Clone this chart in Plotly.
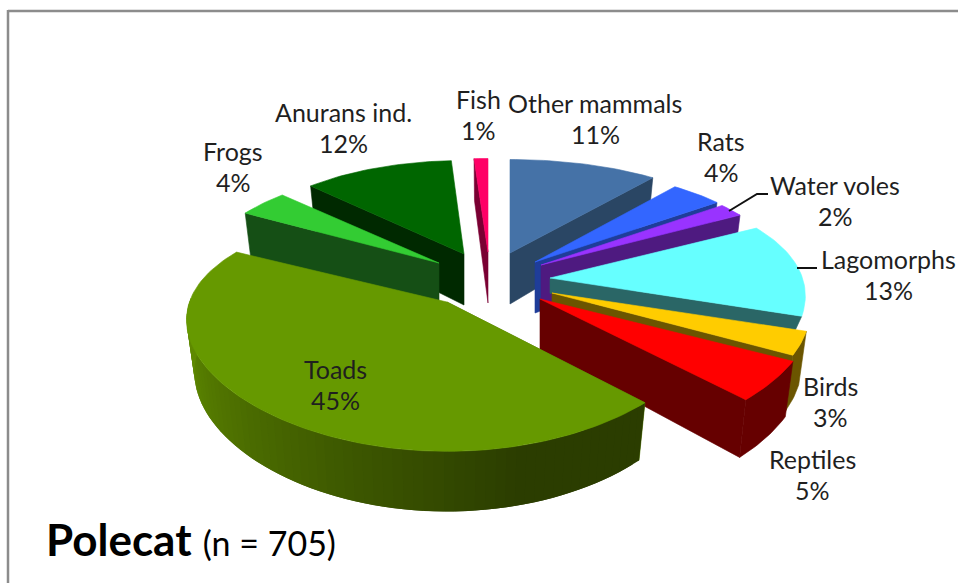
import math
import plotly.graph_objects as go

# --- data ---
categories = ["Other mammals", "Rats", "Water voles", "Lagomorphs", "Birds", "Reptiles",
              "Toads", "Frogs", "Anurans ind.", "Fish"]
percent = [11, 4, 2, 13, 3, 5, 45, 4, 12, 1]
title_main = "Polecat"
title_note = "(n = 705)"

# --- styling / layout ---
top_colors = ["#4572a7", "#3366ff", "#9933ff", "#66ffff", "#ffcc00", "#ff0000",
              "#669900", "#33cc33", "#006600", "#ff0066"]
wall_colors = ["#2a4664", "#1f3d99", "#4e1a80", "#2a6666", "#6b5500", "#660000",
               "#4f7600", "#154f15", "#002900", "#7a0033"]
apex = [(510, 253), (535, 262), (541, 265), (550, 278), (552, 293), (540, 299),
        (447, 302), (439, 263), (464, 254), (488, 252)]
x_scale = [0.98, 0.96, 0.955, 0.99, 1, 1.05, 1.01, 0.93, 0.91, 1]
depth_scale = [1, 1, 1, 0.3, 1, 1, 1, 1, 1, 1]
label_pos = [(595, 103), (721, 141), (835, 185), (888, 259), (830, 386), (812, 459),
             (335, 369), (233, 151), (343, 112), (478, 99)]
LINE_GAP = 31
RX, RY, KX, KY, DEPTH = 255, 115, 0.15, 0.23, 51
RIM_FROM, RIM_TO = 108, 272
FONT = "Lato, Carlito, Calibri, sans-serif"


def project(i, r, deg, z=0.0):
    t = math.radians(deg)
    u, v = math.sin(t), math.cos(t)
    ax, ay = apex[i]
    fy = 1 + KY * r * v
    x = x_scale[i] * r * RX * u / (1 + KX * r * v) * (1 - 0.03 * z)
    y = -r * RY * v / fy + z * DEPTH * depth_scale[i] * (1 - 0.18 * r * v)
    return ax + x, ay + y


def arc(a, b, step=1.5):
    n = max(2, int(abs(b - a) / step) + 1)
    return [a + (b - a) * k / n for k in range(n + 1)]


def mix(c1, c2, f):
    p = [int(c1[j:j + 2], 16) for j in (1, 3, 5)]
    q = [int(c2[j:j + 2], 16) for j in (1, 3, 5)]
    return "rgb(%d,%d,%d)" % tuple(round(x + (y - x) * f) for x, y in zip(p, q))


fig = go.Figure()


def poly(pts, color, name, lw=0.6):
    fig.add_trace(go.Scatter(
        x=[p[0] for p in pts] + [pts[0][0]], y=[p[1] for p in pts] + [pts[0][1]],
        mode="lines", fill="toself", fillcolor=color,
        line=dict(color=color, width=lw), hoverinfo="skip", showlegend=False, name=name))


# angular span of each slice, clockwise from the top
spans, acc = [], 0.0
for p in percent:
    spans.append((acc * 3.6, (acc + p) * 3.6))
    acc += p

draw_order = [9, 8, 7, 0, 1, 2, 3, 4, 5, 6]
for i in draw_order:
    a, b = spans[i]
    name = categories[i]
    # radial wall facing the viewer
    edge = a if (a + b) / 2 > 180 else b
    poly([project(i, 0, edge), project(i, 1, edge), project(i, 1, edge, 1), project(i, 0, edge, 1)],
         wall_colors[i], name)
    # rim wall (only the part that faces the viewer)
    lo, hi = max(a, RIM_FROM), min(b, RIM_TO)
    if hi > lo:
        if name == "Toads":
            angs = arc(lo, hi, 2.0)
            for k in range(len(angs) - 1):
                end = angs[min(k + 2, len(angs) - 1)]  # overlap hides seams
                f = min(1, max(0, (angs[k] - 165) / 95))
                c = mix("#2b3d00", "#5f8a00", f)
                sub = arc(angs[k], end, 1.0)
                poly([project(i, 1, d) for d in sub] + [project(i, 1, d, 1) for d in reversed(sub)],
                     c, name, lw=0)
        else:
            sub = arc(lo, hi, 1.0)
            poly([project(i, 1, d) for d in sub] + [project(i, 1, d, 1) for d in reversed(sub)],
                 wall_colors[i], name)
    # top face
    poly([project(i, 0, a)] + [project(i, 1, d) for d in arc(a, b)], top_colors[i], name)

# labels: category name over its percentage
for name, p, (lx, ly) in zip(categories, percent, label_pos):
    fig.add_annotation(x=lx, y=ly, text=name, showarrow=False, xanchor="center", yanchor="middle",
                       font=dict(family=FONT, size=25, color="#1f1f1f"))
    fig.add_annotation(x=lx, y=ly + LINE_GAP, text=f"{p}%", showarrow=False, xanchor="center",
                       yanchor="middle", font=dict(family=FONT, size=25, color="#1f1f1f"))

fig.add_annotation(x=44, y=539, xanchor="left", yanchor="middle", showarrow=False,
                   text=f"<b>{title_main}</b> <span style='font-size:34px'>{title_note}</span>",
                   font=dict(family=FONT, size=44, color="#000000"))

shapes = [
    dict(type="line", x0=8, x1=958, y0=11, y1=11, line=dict(color="#8c8c8c", width=2.5)),
    dict(type="line", x0=8, x1=8, y0=10, y1=583, line=dict(color="#8c8c8c", width=2.5)),
    dict(type="path", path="M 729 211 L 757 194 L 768 194", line=dict(color="#111111", width=2)),
    dict(type="line", x0=797, x1=817, y0=268, y1=268, line=dict(color="#111111", width=2)),
]
fig.update_layout(
    width=958, height=583, margin=dict(l=0, r=0, t=0, b=0),
    paper_bgcolor="white", plot_bgcolor="white", shapes=shapes,
    xaxis=dict(range=[0, 958], visible=False, fixedrange=True),
    yaxis=dict(range=[583, 0], visible=False, fixedrange=True),
)
fig.write_html("out.html", config={"displayModeBar": False},
               post_script="document.body.style.margin='0';document.body.style.overflow='hidden';")
